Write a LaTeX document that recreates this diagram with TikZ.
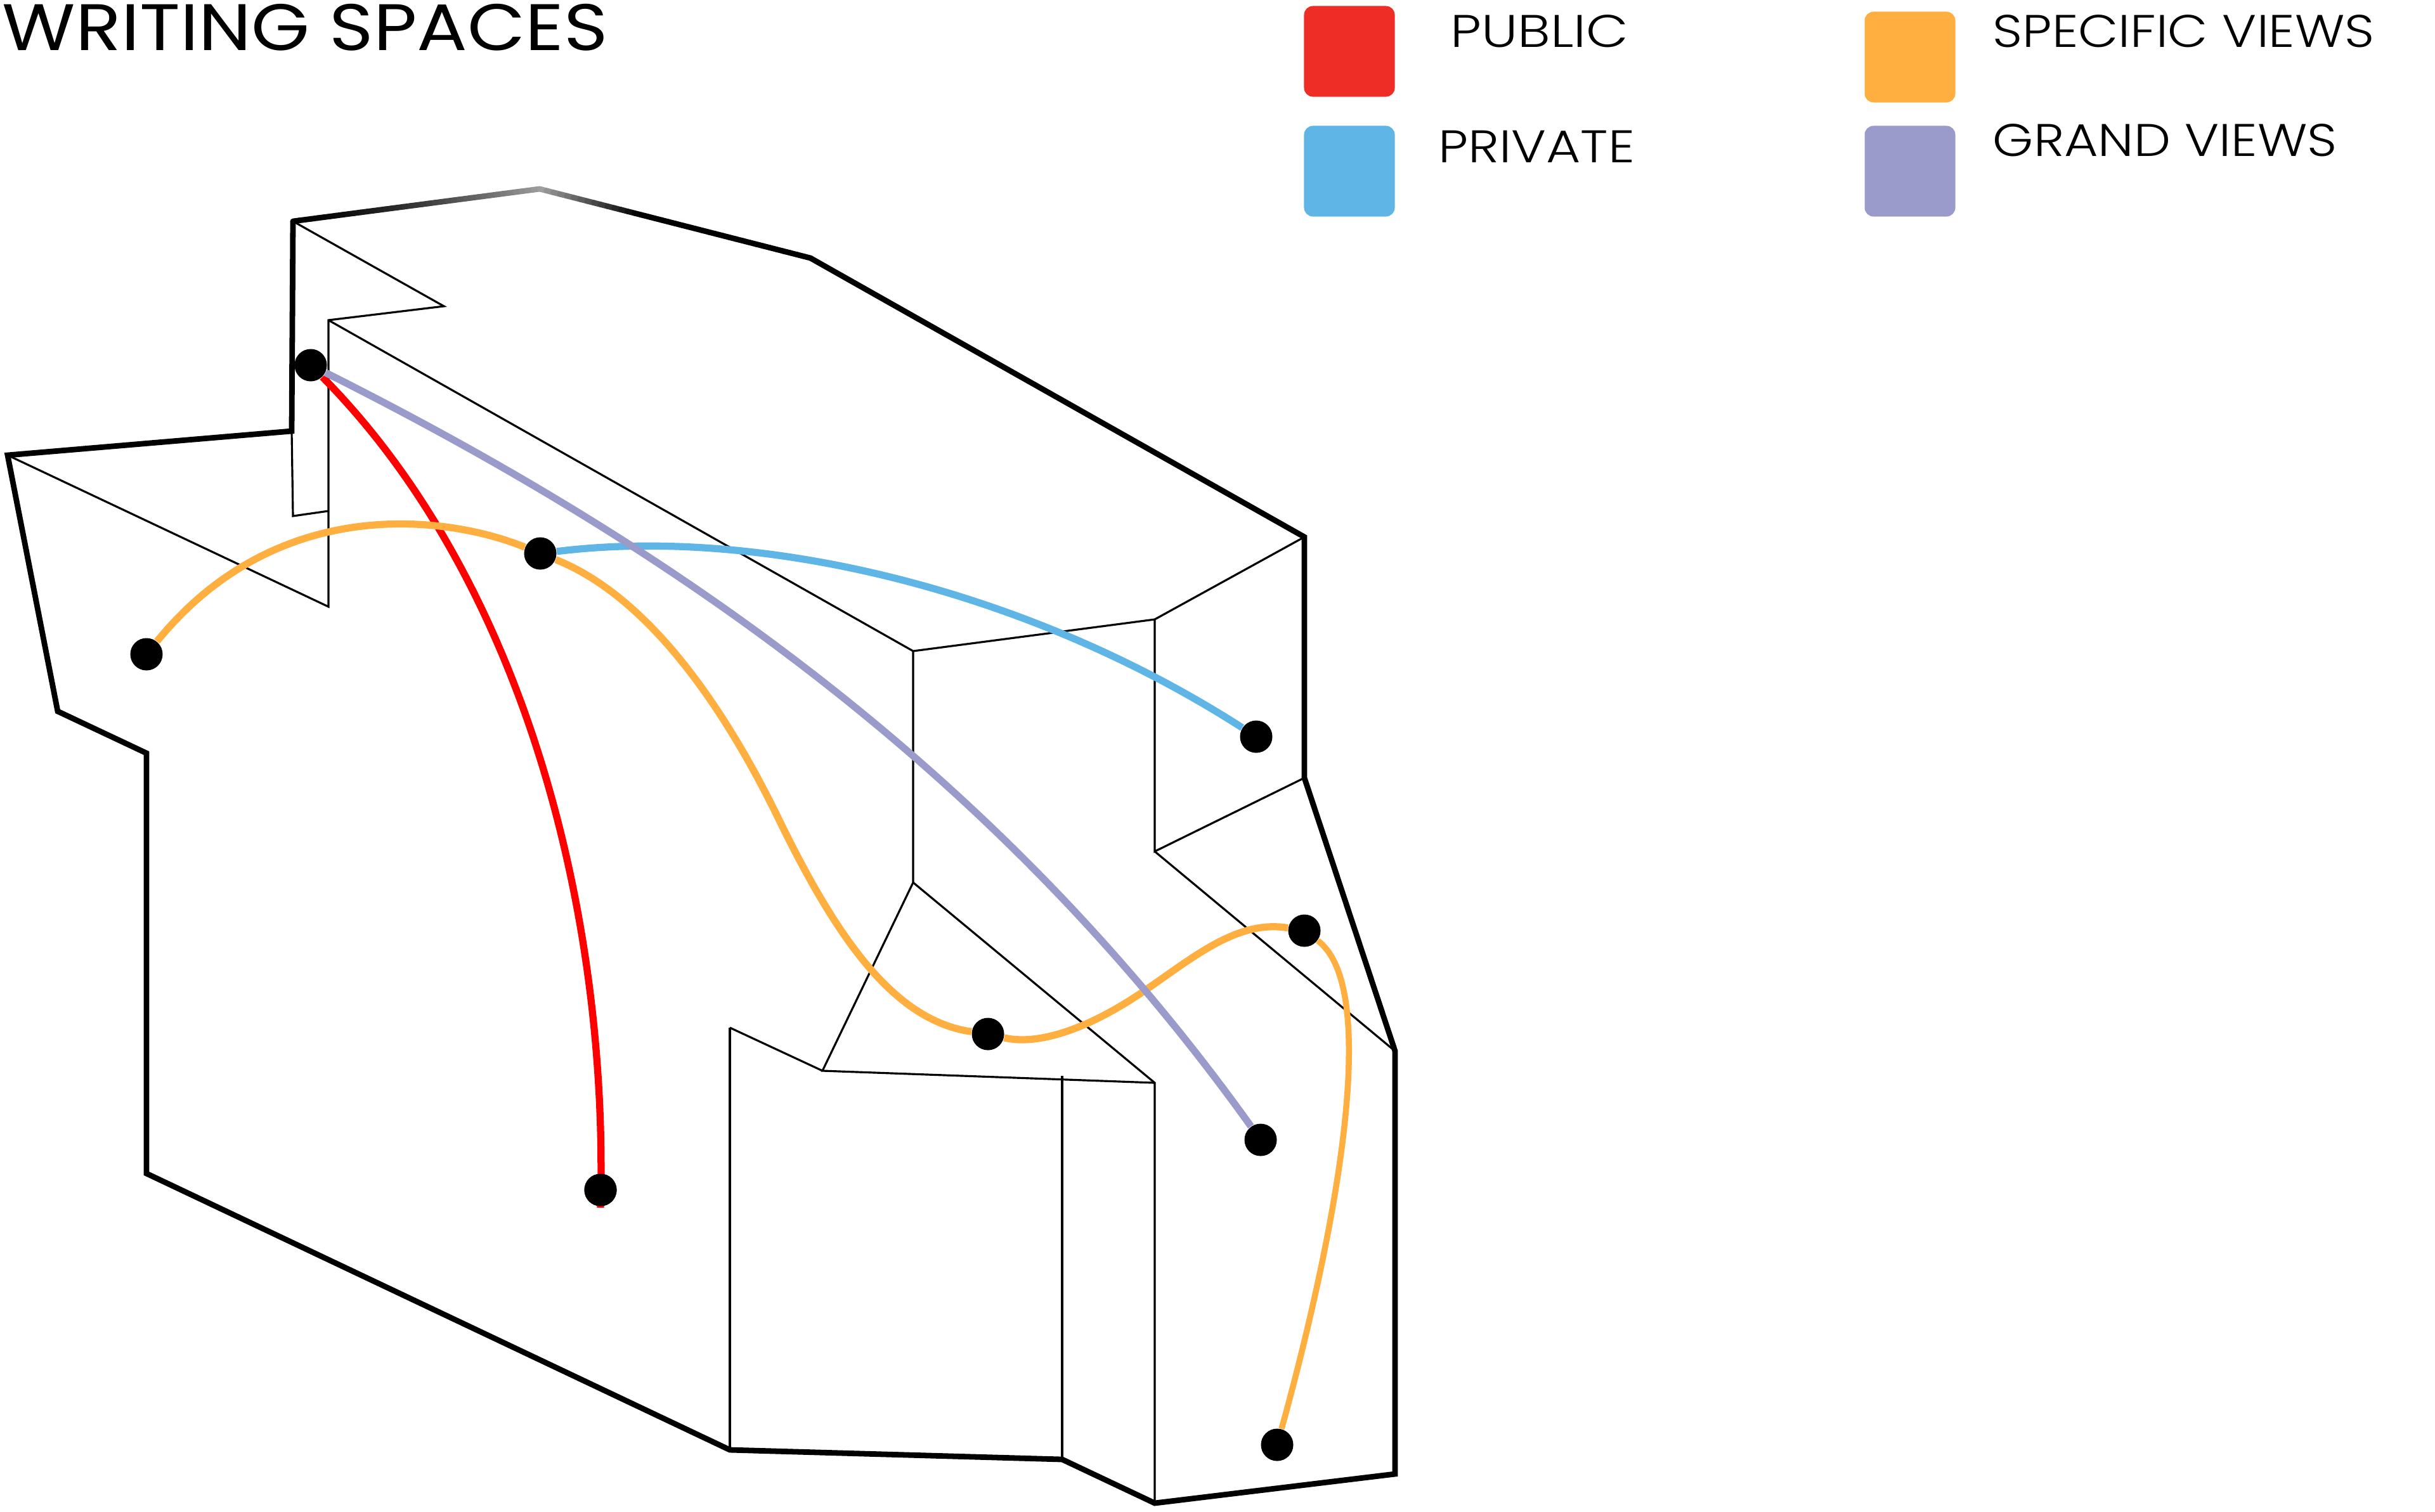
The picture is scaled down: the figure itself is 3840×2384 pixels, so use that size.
\documentclass[tikz,border=0pt]{standalone}
\usepackage{fontspec}
\usetikzlibrary{calc}
\setmainfont{Poppins}
\newfontfamily\titlefont{Poppins}
\newfontfamily\legendfont[UprightFont=* Light]{Poppins}
\definecolor{cred}{HTML}{EF2D27}
\definecolor{cblue}{HTML}{5FB5E6}
\definecolor{corange}{HTML}{FFAF3F}
\definecolor{cpurple}{HTML}{9B9BCB}
\definecolor{cline}{HTML}{FF0000}
\tikzset{
  outline/.style={draw=black,line width=2.5pt,line join=miter},
  thin edge/.style={draw=black,line width=0.9pt,line join=miter},
  route/.style={line width=3.2pt},
  spot/.style={circle,fill=black,inner sep=0pt,minimum size=0.51cm},
  swatch/.style={rounded corners=0.14cm,inner sep=0pt,minimum width=1.43cm,minimum height=1.43cm},
  legend/.style={anchor=base west,inner sep=0pt,text=black,font=\legendfont\fontsize{20.5}{24}\selectfont},
  heading/.style={anchor=base west,inner sep=0pt,text=black,font=\titlefont\fontsize{29.5}{34}\selectfont}
}
\begin{document}
\begin{tikzpicture}[x=0.01cm,y=-0.01cm]
\useasboundingbox (0,0) rectangle (3840,2384);
% vertices
\coordinate (A) at (12,718); \coordinate (B) at (460,680); \coordinate (C) at (462,349);
\coordinate (D) at (851,298); \coordinate (E) at (1278,407); \coordinate (F) at (2057,847);
\coordinate (G) at (2057,1227); \coordinate (H) at (2200,1658); \coordinate (I) at (2200,2325);
\coordinate (J) at (1821,2371); \coordinate (K) at (1675,2302); \coordinate (L) at (1151,2287);
\coordinate (M) at (231,1851); \coordinate (N) at (231,1188); \coordinate (O) at (91,1122);
\coordinate (a1) at (700,483); \coordinate (a2) at (518,505); \coordinate (a3) at (518,957);
\coordinate (a4) at (462,814); \coordinate (a5) at (518,806);
\coordinate (b1) at (1440,1027); \coordinate (b2) at (1821,977); \coordinate (b3) at (1821,1343);
\coordinate (b4) at (1440,1392); \coordinate (b5) at (1297,1689); \coordinate (b6) at (1821,1708);
\coordinate (b7) at (1151,1621); \coordinate (b8) at (1675,1697);
% thin edges
\draw[thin edge] (C) -- (a1) -- (a2) -- (a3) -- (A);
\draw[thin edge] (B) -- (a4) -- (a5);
\draw[thin edge] (a2) -- (b1) -- (b2) -- (F);
\draw[thin edge] (b2) -- (b3) -- (G);
\draw[thin edge] (b3) -- (H);
\draw[thin edge] (b1) -- (b4) -- (b5) -- (b6);
\draw[thin edge] (b4) -- (b6) -- (J);
\draw[thin edge] (b7) -- (b5);
\draw[thin edge] (b7) -- (L);
\draw[thin edge] (b8) -- (K);
% thick outline
\draw[outline] (C) -- (B) -- (A) -- (O) -- (N) -- (M) -- (L) -- (K) -- (J) -- (I) -- (H) -- (G) -- (F) -- (E);
\foreach \s in {0,...,39}{
  \pgfmathsetmacro{\ta}{\s/40}
  \pgfmathsetmacro{\tb}{(\s+1)/40}
  \pgfmathsetmacro{\shadeval}{100-62*\ta*sqrt(\ta)}
  \draw[line width=2.5pt,line cap=round,color=black!\shadeval] ($(C)!\ta!(D)$) -- ($(C)!\tb!(D)$);
}
\foreach \s in {0,...,39}{
  \pgfmathsetmacro{\ta}{\s/40}
  \pgfmathsetmacro{\tb}{(\s+1)/40}
  \pgfmathsetmacro{\shadeval}{min(100,38+170*\ta)}
  \draw[line width=2.5pt,line cap=round,color=black!\shadeval] ($(D)!\ta!(E)$) -- ($(D)!\tb!(E)$);
}
% spots
\node[spot] (s1) at (490,576) {};
\node[spot] (s2) at (852,873) {};
\node[spot] (s3) at (231,1032) {};
\node[spot] (s4) at (947,1877) {};
\node[spot] (s5) at (1981,1162) {};
\node[spot] (s6) at (1558,1631) {};
\node[spot] (s7) at (1988,1798) {};
\node[spot] (s8) at (2057,1468) {};
\node[spot] (s9) at (2014,2279) {};
\coordinate (redtail) at (947,1905);
\coordinate (oa) at (1230,1296);
\coordinate (ob) at (1800,1566);
% routes
\draw[route,cline] (s1) .. controls (830,920) and (960,1450) .. (redtail);
\draw[route,cblue] (s2) .. controls (1200,830) and (1620,930) .. (s5);
\draw[route,corange] (s3) .. controls (440,775) and (710,815) .. (s2);
\draw[route,corange] (s2) .. controls (1020,940) and (1140,1110) .. (oa);
\draw[route,corange] (oa) .. controls (1320,1480) and (1410,1610) .. (s6);
\draw[route,corange] (s6) .. controls (1640,1650) and (1720,1620) .. (ob);
\draw[route,corange] (ob) .. controls (1880,1512) and (1950,1450) .. (s8);
\draw[route,corange,line width=2.7pt] (s8) .. controls (2180,1560) and (2105,1950) .. (s9);
\draw[route,cpurple] (s1) .. controls (1035,850) and (1560,1200) .. (s7);
% spot on top of the red tail
\node[spot] at (s4) {};
% legend
\node[swatch,fill=cred] (k1) at (2128,81) {};
\node[swatch,fill=cblue] (k2) at (2128,270) {};
\node[swatch,fill=corange] (k3) at (3012,90) {};
\node[swatch,fill=cpurple] (k4) at (3012,270) {};
\node[legend] (t1) at (2287,74) {\scalebox{1.2}[1]{PUBLIC}};
\node[legend] (t2) at (2268,256) {\scalebox{1.155}[1]{PRIVATE}};
\node[legend] (t3) at (3142,74) {\scalebox{1.14}[1]{SPECIFIC VIEWS}};
\node[legend] (t4) at (3142,246) {\scalebox{1.14}[1]{GRAND VIEWS}};
\node[heading] (title) at (3,79) {\scalebox{1.14}[1]{WRITING SPACES}};
\end{tikzpicture}
\end{document}
